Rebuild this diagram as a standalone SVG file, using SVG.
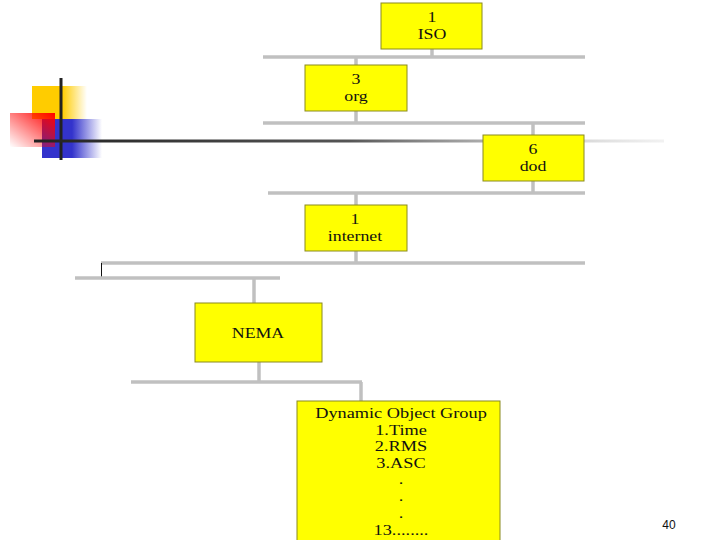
<svg xmlns="http://www.w3.org/2000/svg" width="720" height="540" viewBox="0 0 720 540">
<defs>
<linearGradient id="gy" x1="0" y1="0" x2="1" y2="0"><stop offset="0" stop-color="#ffcc00"/><stop offset="0.55" stop-color="#ffcc00"/><stop offset="1" stop-color="#ffcc00" stop-opacity="0"/></linearGradient>
<linearGradient id="gb" x1="0" y1="0" x2="1" y2="0"><stop offset="0" stop-color="#3333cc"/><stop offset="0.5" stop-color="#3333cc"/><stop offset="1" stop-color="#3333cc" stop-opacity="0"/></linearGradient>
<linearGradient id="gr" x1="1" y1="0" x2="0" y2="1"><stop offset="0" stop-color="#ff0000"/><stop offset="1" stop-color="#ff0000" stop-opacity="0"/></linearGradient>
<linearGradient id="gl" x1="0" y1="0" x2="1" y2="0"><stop offset="0" stop-color="#222"/><stop offset="0.5" stop-color="#555"/><stop offset="1" stop-color="#ddd" stop-opacity="0.4"/></linearGradient>
<style>
.box{fill:#ffff00;stroke:#8a8a20;stroke-width:1}
.t{font-family:"Liberation Serif","Times New Roman",serif;font-size:15.5px;fill:#111;text-anchor:middle}
.c{stroke:#c0c0c0;stroke-width:3.5;fill:none}
</style>
</defs>
<g id="decor">
<rect x="32" y="86" width="55" height="33" fill="url(#gy)"/>
<rect x="42" y="119" width="60" height="39" fill="url(#gb)"/>
<rect x="10" y="113" width="45" height="34" fill="url(#gr)"/>
<rect x="59.5" y="78" width="3" height="82" fill="#222"/>
<rect x="34" y="139.5" width="630" height="3" fill="url(#gl)"/>
</g>
<g id="connectors">
<line class="c" x1="432" y1="48" x2="432" y2="57"/>
<line class="c" x1="263" y1="57" x2="585" y2="57"/>
<line class="c" x1="356" y1="57" x2="356" y2="65"/>
<line class="c" x1="356" y1="111" x2="356" y2="123"/>
<line class="c" x1="263" y1="123" x2="585" y2="123"/>
<line class="c" x1="533" y1="123" x2="533" y2="135"/>
<line class="c" x1="533" y1="181" x2="533" y2="193"/>
<line class="c" x1="268" y1="193" x2="585" y2="193"/>
<line class="c" x1="356" y1="193" x2="356" y2="205"/>
<line class="c" x1="356" y1="251" x2="356" y2="263"/>
<line class="c" x1="101" y1="263" x2="585" y2="263"/>
<line x1="101.5" y1="263" x2="101.5" y2="278" stroke="#111" stroke-width="1"/>
<line class="c" x1="75" y1="278" x2="280" y2="278"/>
<line class="c" x1="254" y1="278" x2="254" y2="303"/>
<line class="c" x1="259" y1="362" x2="259" y2="382"/>
<line class="c" x1="131" y1="382" x2="362" y2="382"/>
<line class="c" x1="361" y1="382" x2="361" y2="401"/>
</g>
<g id="iso"><rect class="box" x="381" y="3" width="101" height="46"/><g transform="translate(432 0) scale(1.15 1)"><text class="t" x="0" y="22">1</text><text class="t" x="0" y="39">ISO</text></g></g>
<g id="org"><rect class="box" x="305" y="65" width="102" height="46"/><g transform="translate(356 0) scale(1.15 1)"><text class="t" x="0" y="84">3</text><text class="t" x="0" y="101">org</text></g></g>
<g id="dod"><rect class="box" x="483" y="135" width="101" height="46"/><g transform="translate(533 0) scale(1.15 1)"><text class="t" x="0" y="154">6</text><text class="t" x="0" y="171">dod</text></g></g>
<g id="internet"><rect class="box" x="305" y="205" width="102" height="46"/><g transform="translate(355 0) scale(1.15 1)"><text class="t" x="0" y="224">1</text><text class="t" x="0" y="241">internet</text></g></g>
<g id="nema"><rect class="box" x="195" y="303" width="127" height="59"/><g transform="translate(258 0) scale(1.15 1)"><text class="t" x="0" y="338">NEMA</text></g></g>
<g id="dog"><rect class="box" x="297" y="401" width="203" height="145"/>
<g transform="translate(401 0) scale(1.18 1)">
<text class="t" x="0" y="418">Dynamic Object Group</text>
<text class="t" x="0" y="435">1.Time</text>
<text class="t" x="0" y="451">2.RMS</text>
<text class="t" x="0" y="468">3.ASC</text>
<text class="t" x="0" y="484">.</text>
<text class="t" x="0" y="501">.</text>
<text class="t" x="0" y="518">.</text>
<text class="t" x="0" y="535">13........</text>
</g>
</g>
<text x="669" y="529" font-family="Liberation Sans,Arial,sans-serif" font-size="12" fill="#111" text-anchor="middle">40</text>
</svg>
